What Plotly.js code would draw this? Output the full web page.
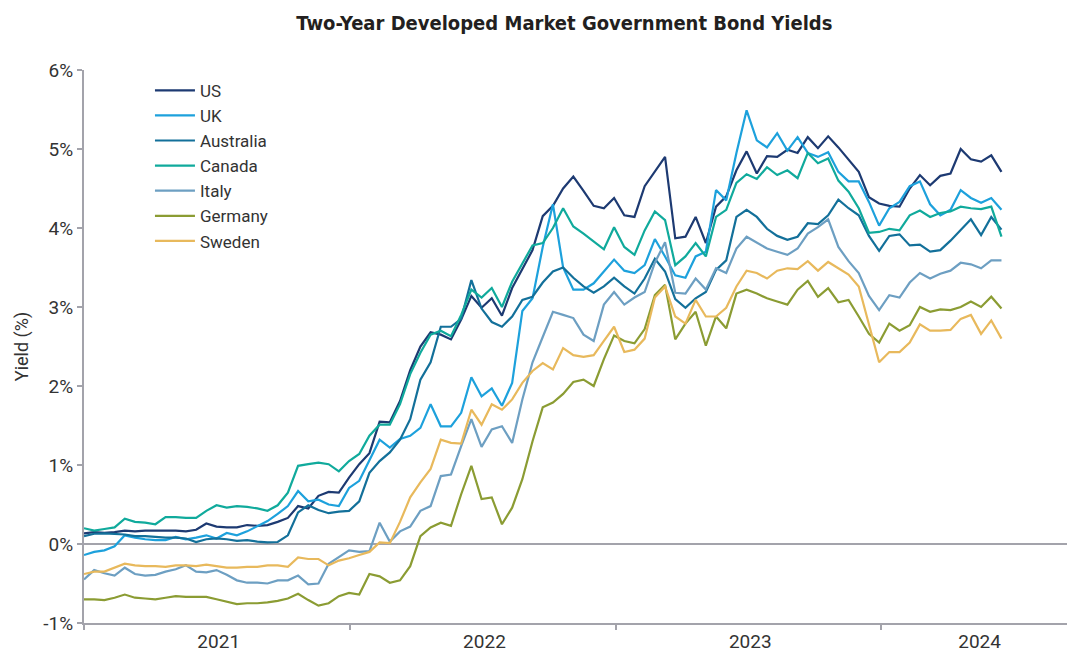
<!DOCTYPE html>
<html>
<head>
<meta charset="utf-8">
<script src="https://cdn.plot.ly/plotly-3.0.1.min.js"></script>
<style>
html,body{margin:0;padding:0;background:#fff;}
#chart{width:1071px;height:654px;}
</style>
</head>
<body>
<div id="chart"></div>
<script>
const dates = ['2021-01-01','2021-01-15','2021-01-29','2021-02-12','2021-02-26','2021-03-12','2021-03-26','2021-04-09','2021-04-23','2021-05-07','2021-05-21','2021-06-04','2021-06-18','2021-07-02','2021-07-16','2021-07-30','2021-08-13','2021-08-27','2021-09-10','2021-09-24','2021-10-08','2021-10-22','2021-11-05','2021-11-19','2021-12-03','2021-12-17','2021-12-31',
'2022-01-14','2022-01-28','2022-02-11','2022-02-25','2022-03-11','2022-03-25','2022-04-08','2022-04-22','2022-05-06','2022-05-20','2022-06-03','2022-06-17','2022-07-01','2022-07-15','2022-07-29','2022-08-12','2022-08-26','2022-09-09','2022-09-23','2022-10-07','2022-10-21','2022-11-04','2022-11-18','2022-12-02','2022-12-16','2022-12-30',
'2023-01-13','2023-01-27','2023-02-10','2023-02-24','2023-03-10','2023-03-24','2023-04-07','2023-04-21','2023-05-05','2023-05-19','2023-06-02','2023-06-16','2023-06-30','2023-07-14','2023-07-28','2023-08-11','2023-08-25','2023-09-08','2023-09-22','2023-10-06','2023-10-20','2023-11-03','2023-11-17','2023-12-01','2023-12-15','2023-12-29',
'2024-01-12','2024-01-26','2024-02-09','2024-02-23','2024-03-08','2024-03-22','2024-04-05','2024-04-19','2024-05-03','2024-05-17','2024-05-31','2024-06-14'];

const us = [0.135,0.15,0.14,0.15,0.17,0.16,0.17,0.17,0.17,0.17,0.16,0.18,0.26,0.22,0.21,0.21,0.24,0.23,0.24,0.28,0.33,0.48,0.45,0.61,
0.66,
0.65,0.84,1.01,1.15,1.55,1.54,1.81,2.20,2.50,2.68,2.65,2.59,2.84,3.14,2.99,3.11,2.89,3.24,3.48,3.72,4.15,4.28,
4.50,
4.65,4.47,4.28,4.25,4.38,4.16,4.14,4.53,4.71,4.90,3.87,3.89,4.14,3.81,4.27,4.40,4.73,4.97,4.69,4.91,4.90,4.99,4.95,
5.15,
5.01,5.16,5.02,4.87,4.71,4.39,4.31,4.28,4.27,4.50,4.67,4.54,4.66,4.69,5.00,4.87,4.84,4.92,4.71];

const uk = [-0.14,-0.10,-0.08,-0.03,0.11,0.08,0.06,0.05,0.05,0.09,0.06,0.08,0.11,0.07,0.14,0.11,0.16,0.22,0.29,0.38,0.48,0.67,0.54,0.56,
0.50,
0.48,0.71,0.80,1.05,1.32,1.22,1.33,1.37,1.47,1.77,1.49,1.49,1.66,2.11,1.87,1.97,1.75,2.04,2.95,3.11,3.76,4.30,
3.50,
3.22,3.22,3.30,3.45,3.60,3.46,3.43,3.53,3.86,3.64,3.40,3.37,3.64,3.70,4.48,4.35,4.95,5.49,5.11,5.02,5.20,4.98,5.15,
4.95,
4.90,4.96,4.71,4.59,4.59,4.33,4.03,4.25,4.33,4.53,4.59,4.30,4.16,4.23,4.48,4.38,4.32,4.38,4.23];

const australia = [0.10,0.13,0.135,0.13,0.12,0.10,0.10,0.09,0.08,0.08,0.07,0.025,0.06,0.07,0.06,0.04,0.05,0.03,0.02,0.025,0.11,0.40,0.49,0.43,
0.39,
0.41,0.42,0.54,0.90,1.05,1.16,1.32,1.58,2.08,2.30,2.75,2.75,2.85,3.34,2.98,2.81,2.75,2.88,3.09,3.13,3.31,3.45,
3.50,
3.37,3.26,3.18,3.26,3.37,3.26,3.17,3.36,3.61,3.45,3.10,2.99,3.11,3.19,3.47,3.59,4.14,4.23,4.14,3.99,3.90,3.85,3.89,
4.06,
4.05,4.16,4.36,4.25,4.16,3.90,3.71,3.90,3.92,3.78,3.79,3.70,3.72,3.84,3.97,4.11,3.91,4.14,3.98];

const canada = [0.20,0.17,0.19,0.21,0.32,0.28,0.27,0.25,0.34,0.34,0.33,0.33,0.42,0.49,0.46,0.48,0.47,0.45,0.42,0.49,0.65,0.99,1.01,1.03,
1.01,
0.92,1.05,1.14,1.37,1.51,1.51,1.77,2.15,2.42,2.65,2.70,2.63,2.90,3.22,3.12,3.24,3.00,3.32,3.55,3.78,3.81,4.00,
4.25,
4.02,3.93,3.83,3.73,4.01,3.76,3.66,3.97,4.21,4.10,3.53,3.64,3.81,3.64,4.14,4.23,4.57,4.68,4.62,4.77,4.67,4.73,4.63,
4.95,
4.82,4.88,4.60,4.46,4.25,3.94,3.95,3.99,3.97,4.16,4.22,4.14,4.19,4.21,4.27,4.25,4.24,4.27,3.89];

const italy = [-0.45,-0.33,-0.37,-0.40,-0.30,-0.38,-0.40,-0.39,-0.35,-0.32,-0.27,-0.35,-0.36,-0.33,-0.39,-0.46,-0.49,-0.49,-0.50,-0.46,-0.46,-0.40,-0.51,-0.50,
-0.25,
-0.16,-0.08,-0.10,-0.09,0.27,0.03,0.16,0.22,0.42,0.48,0.86,0.88,1.24,1.58,1.23,1.45,1.49,1.28,1.83,2.30,2.62,2.94,
2.90,
2.86,2.65,2.57,3.03,3.19,3.03,3.12,3.19,3.56,3.82,3.18,3.17,3.36,3.22,3.49,3.43,3.74,3.89,3.81,3.74,3.70,3.66,3.74,
3.93,
4.01,4.11,3.76,3.58,3.43,3.14,2.96,3.15,3.12,3.31,3.43,3.36,3.42,3.46,3.56,3.54,3.49,3.59,3.59];

const germany = [-0.70,-0.70,-0.71,-0.68,-0.64,-0.68,-0.69,-0.70,-0.68,-0.66,-0.67,-0.67,-0.67,-0.70,-0.73,-0.76,-0.75,-0.75,-0.74,-0.72,-0.69,-0.63,-0.71,-0.78,
-0.75,
-0.66,-0.62,-0.64,-0.38,-0.41,-0.49,-0.46,-0.28,0.10,0.21,0.27,0.23,0.63,0.99,0.57,0.59,0.25,0.46,0.82,1.30,1.73,1.79,
1.90,
2.05,2.08,2.00,2.34,2.64,2.57,2.54,2.72,3.15,3.28,2.59,2.79,2.94,2.51,2.88,2.73,3.17,3.22,3.17,3.11,3.07,3.03,3.22,
3.33,
3.13,3.24,3.06,3.09,2.88,2.66,2.55,2.79,2.70,2.77,3.00,2.94,2.97,2.96,3.00,3.07,3.00,3.13,2.98];

const sweden = [-0.38,-0.35,-0.35,-0.30,-0.25,-0.27,-0.28,-0.28,-0.29,-0.27,-0.27,-0.28,-0.26,-0.28,-0.30,-0.30,-0.29,-0.29,-0.27,-0.27,-0.29,-0.17,-0.19,-0.19,
-0.27,
-0.21,-0.18,-0.14,-0.10,0.02,0.01,0.28,0.59,0.78,0.95,1.32,1.28,1.27,1.70,1.51,1.77,1.70,1.83,2.04,2.19,2.29,2.21,
2.48,
2.39,2.37,2.39,2.57,2.75,2.43,2.46,2.60,3.12,3.26,2.88,2.79,3.09,2.88,2.88,2.99,3.26,3.46,3.43,3.36,3.46,3.49,3.48,
3.58,
3.46,3.57,3.49,3.41,3.26,2.79,2.30,2.43,2.43,2.55,2.78,2.70,2.70,2.71,2.85,2.90,2.66,2.83,2.60];

const seriesNames = ['US','UK','Australia','Canada','Italy','Germany','Sweden'];
const seriesValues = [us, uk, australia, canada, italy, germany, sweden];
const seriesColors = ['#1d3a72','#1da1dc','#13709a','#10aa9c','#6d9fc2','#8b9c33','#e8b95c'];

const yearLabels = ['2021','2022','2023','2024'];
const yearLabelDates = ['2021-07-05','2022-07-05','2023-07-05','2024-05-15'];
const yearTickDates = ['2021-01-01','2022-01-01','2023-01-01','2024-01-01'];
const yTickVals = [-1,0,1,2,3,4,5,6];
const yTickText = ['-1%','0%','1%','2%','3%','4%','5%','6%'];

const traces = seriesNames.map((name, k) => ({
  type: 'scatter',
  mode: 'lines',
  name: name,
  x: dates,
  y: seriesValues[k],
  line: {color: seriesColors[k], width: 2.2},
  hoverinfo: 'x+y+name'
}));

const axisGray = '#a3a3ab';
const layout = {
  width: 1071,
  height: 654,
  margin: {l: 84, r: 4, t: 70, b: 31, pad: 0},
  paper_bgcolor: '#ffffff',
  plot_bgcolor: '#ffffff',
  font: {family: 'Roboto, "DejaVu Sans", sans-serif', size: 19, color: '#333333'},
  title: {
    text: '<b>Two-Year Developed Market Government Bond Yields</b>',
    font: {family: '"DejaVu Sans Condensed", Roboto, sans-serif', size: 20, color: '#231f20'},
    x: 0.527, xanchor: 'center', y: 0.965, yanchor: 'middle'
  },
  showlegend: true,
  legend: {
    x: 0.0671, xanchor: 'left', y: 0.995, yanchor: 'top',
    bgcolor: 'rgba(0,0,0,0)', borderwidth: 0,
    font: {family: 'Roboto, sans-serif', size: 17, color: '#333333'},
    itemwidth: 40
  },
  xaxis: {
    type: 'date',
    range: ['2021-01-01', '2024-09-12'],
    showgrid: false,
    zeroline: false,
    showline: true, linecolor: axisGray, linewidth: 2,
    tickmode: 'array', tickvals: yearLabelDates, ticktext: yearLabels,
    ticks: '',
    tickfont: {size: 19, color: '#333333'},
    minor: {tickmode: 'array', tickvals: yearTickDates, ticks: 'outside', ticklen: 5, tickwidth: 2, tickcolor: axisGray, showgrid: false},
    fixedrange: true
  },
  yaxis: {
    range: [-1, 6],
    tickmode: 'array', tickvals: yTickVals, ticktext: yTickText,
    showgrid: false,
    zeroline: true, zerolinecolor: axisGray, zerolinewidth: 2,
    showline: true, linecolor: axisGray, linewidth: 2,
    ticks: 'outside', ticklen: 5, tickwidth: 2, tickcolor: axisGray,
    tickfont: {size: 19, color: '#333333'},
    title: {text: 'Yield (%)', font: {size: 18, color: '#333333'}, standoff: 10},
    fixedrange: true
  }
};

Plotly.newPlot('chart', traces, layout, {displayModeBar: false, staticPlot: true});
</script>
</body>
</html>
